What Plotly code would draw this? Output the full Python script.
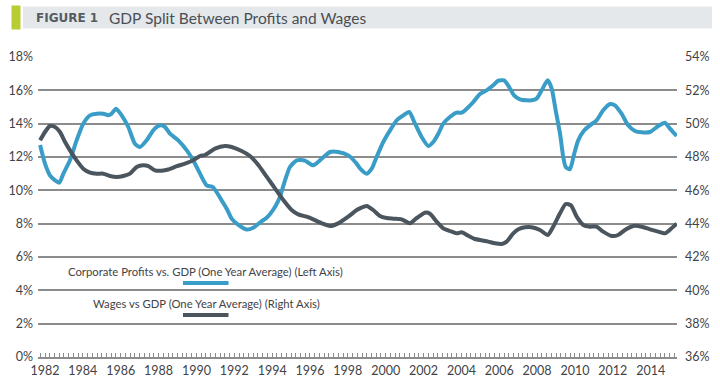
import plotly.graph_objects as go

# Corporate profits vs GDP (left axis, %)
profit_years = [1981.74, 1982.0, 1982.26, 1982.53, 1982.76, 1982.97, 1983.32, 1983.67, 1984.02, 1984.38,
                1984.73, 1985.08, 1985.34, 1985.52, 1985.75, 1986.05, 1986.40, 1986.75, 1987.02, 1987.37,
                1987.72, 1988.07, 1988.34, 1988.60, 1989.04, 1989.49, 1989.83, 1990.19, 1990.54, 1990.87,
                1991.33, 1991.60, 1991.86, 1992.13, 1992.66, 1993.0, 1993.45, 1993.71, 1994.15, 1994.41,
                1994.68, 1994.94, 1995.30, 1995.73, 1996.17, 1996.62, 1997.06, 1997.49, 1998.02, 1998.47,
                1998.64, 1999.0, 1999.26, 1999.52, 1999.87, 2000.23, 2000.58, 2000.93, 2001.24, 2001.55,
                2001.90, 2002.25, 2002.51, 2002.78, 2003.04, 2003.39, 2003.75, 2004.01, 2004.28, 2004.63,
                2004.98, 2005.33, 2005.68, 2005.95, 2006.25, 2006.47, 2006.78, 2007.09, 2007.45, 2007.71,
                2007.97, 2008.24, 2008.56, 2008.77, 2008.98, 2009.21, 2009.38, 2009.51, 2009.73, 2009.96,
                2010.17, 2010.49, 2010.79, 2011.14, 2011.49, 2011.85, 2012.11, 2012.46, 2012.81, 2013.17,
                2013.52, 2013.96, 2014.40, 2014.75, 2015.02, 2015.37]
profit_values = [12.72, 11.6, 10.9, 10.6, 10.46, 11.0, 11.8, 13.0, 14.0, 14.5,
                 14.6, 14.6, 14.5, 14.6, 14.9, 14.5, 13.8, 12.8, 12.6, 13.0,
                 13.6, 13.9, 13.8, 13.4, 13.0, 12.4, 11.8, 11.0, 10.3, 10.2,
                 9.4, 8.9, 8.3, 8.0, 7.65, 7.75, 8.15, 8.35, 9.0, 9.6,
                 10.6, 11.4, 11.8, 11.78, 11.5, 11.9, 12.3, 12.3, 12.1, 11.6,
                 11.32, 11.0, 11.3, 12.0, 12.9, 13.6, 14.2, 14.5, 14.7, 14.0,
                 13.2, 12.66, 12.9, 13.4, 14.0, 14.4, 14.66, 14.66, 14.9, 15.3,
                 15.78, 16.0, 16.3, 16.58, 16.6, 16.3, 15.7, 15.46, 15.4, 15.4,
                 15.5, 16.0, 16.6, 16.1, 14.8, 13.4, 12.0, 11.4, 11.26, 12.2,
                 13.0, 13.6, 13.9, 14.2, 14.8, 15.18, 15.1, 14.6, 13.9, 13.56,
                 13.48, 13.5, 13.86, 14.06, 13.7, 13.26]

# Wages vs GDP (right axis, %)
wage_years = [1981.74, 1982.0, 1982.26, 1982.53, 1982.79, 1983.06, 1983.32, 1983.67, 1984.02, 1984.38,
              1984.73, 1985.08, 1985.43, 1985.79, 1986.14, 1986.49, 1986.84, 1987.19, 1987.46, 1987.81,
              1988.16, 1988.51, 1988.96, 1989.40, 1989.83, 1990.19, 1990.45, 1990.98, 1991.51, 1991.86,
              1992.39, 1992.83, 1993.27, 1993.71, 1994.15, 1994.59, 1995.03, 1995.38, 1995.82, 1996.17,
              1996.62, 1997.06, 1997.49, 1998.02, 1998.47, 1998.64, 1999.0, 1999.34, 1999.70, 2000.05,
              2000.40, 2000.84, 2001.28, 2001.64, 2002.07, 2002.34, 2002.69, 2003.04, 2003.39, 2003.75,
              2004.01, 2004.36, 2004.72, 2005.07, 2005.42, 2005.77, 2006.13, 2006.39, 2006.74, 2007.01,
              2007.36, 2007.71, 2008.15, 2008.56, 2008.85, 2009.21, 2009.51, 2009.79, 2010.09, 2010.44,
              2010.79, 2011.14, 2011.49, 2011.94, 2012.28, 2012.64, 2013.08, 2013.52, 2013.96, 2014.40,
              2014.75, 2015.10, 2015.37]
wage_values = [49.0, 49.5, 49.86, 49.8, 49.5, 48.9, 48.4, 47.8, 47.3, 47.06,
               47.0, 47.0, 46.86, 46.8, 46.86, 47.0, 47.4, 47.5, 47.45, 47.2,
               47.18, 47.25, 47.45, 47.6, 47.8, 48.06, 48.12, 48.5, 48.66, 48.6,
               48.36, 48.06, 47.52, 46.82, 46.12, 45.42, 44.82, 44.56, 44.42, 44.26,
               44.02, 43.86, 44.02, 44.42, 44.82, 44.92, 45.06, 44.82, 44.46, 44.34,
               44.3, 44.26, 44.02, 44.34, 44.66, 44.6, 44.12, 43.72, 43.56, 43.42,
               43.48, 43.28, 43.08, 43.0, 42.92, 42.82, 42.78, 42.92, 43.42, 43.66,
               43.78, 43.78, 43.62, 43.32, 43.82, 44.62, 45.18, 45.1, 44.42, 43.92,
               43.82, 43.82, 43.52, 43.26, 43.32, 43.62, 43.86, 43.82, 43.66, 43.52,
               43.42, 43.72, 44.0]

year_ticks = list(range(1982, 2015, 2))
left_ticks = list(range(0, 19, 2))
right_ticks = list(range(36, 55, 2))

title_tag = "FIGURE 1"
title_text = "GDP Split Between Profits and Wages"
profit_name = "Corporate Profits vs. GDP (One Year Average) (Left Axis)"
wage_name = "Wages vs GDP (One Year Average) (Right Axis)"

BLUE = "#3a9dc7"
DARK = "#4b555d"
GRID = "#8c8c8c"
TXT = "#3f4347"
FONT = "Lato, 'Open Sans', sans-serif"

# plot area in pixels (for paper-coordinate conversions)
PL, PR, PT, PB = 38, 677, 57, 357
PW, PH = PR - PL, PB - PT


def px(x):
    return (x - PL) / PW


def py(y):
    return (PB - y) / PH


fig = go.Figure()
fig.add_trace(go.Scatter(x=profit_years, y=profit_values, mode="lines", name=profit_name,
                         line=dict(color=BLUE, width=4, shape="spline", smoothing=0.6), yaxis="y"))
fig.add_trace(go.Scatter(x=wage_years, y=wage_values, mode="lines", name=wage_name,
                         line=dict(color=DARK, width=4, shape="spline", smoothing=0.6), yaxis="y2"))

fig.update_layout(
    width=720, height=383,
    margin=dict(l=PL, r=720 - PR, t=PT, b=383 - PB, autoexpand=False),
    paper_bgcolor="white", plot_bgcolor="white",
    showlegend=False,
    font=dict(family=FONT, color=TXT, size=12),
    xaxis=dict(range=[1981.63, 2015.39], tickvals=year_ticks, ticktext=[str(y) for y in year_ticks],
               showgrid=False, zeroline=False, showline=True, linecolor=GRID, linewidth=1.5,
               ticks="inside", ticklen=4, tickcolor=GRID, tickwidth=1,
               minor=dict(dtick=0.25, tick0=1982, ticks="inside", ticklen=4, tickcolor=GRID, tickwidth=1),
               tickfont=dict(size=12.5, color=TXT), ticklabelstandoff=1),
    yaxis=dict(range=[0, 18], tickvals=left_ticks, ticktext=[f"{v}%" for v in left_ticks],
               showgrid=True, gridcolor=GRID, gridwidth=1.5, zeroline=False,
               tickfont=dict(size=12.5, color=TXT), ticklabelstandoff=4),
    yaxis2=dict(range=[36, 54], tickvals=right_ticks, ticktext=[f"{v}%" for v in right_ticks],
                overlaying="y", side="right", showgrid=False, zeroline=False,
                tickfont=dict(size=12.5, color=TXT), ticklabelstandoff=7),
)

# Title banner
fig.add_shape(type="rect", xref="paper", yref="paper", x0=px(23), x1=px(712),
              y0=py(28.5), y1=py(6.5), fillcolor="#e5e8ea", line_width=0, layer="below")
fig.add_shape(type="rect", xref="paper", yref="paper", x0=px(11.5), x1=px(20.5),
              y0=py(29.5), y1=py(5.5), fillcolor="#b8cc34", line_width=0)
fig.add_annotation(xref="paper", yref="paper", x=px(34), y=py(18),
                   xanchor="left", yanchor="middle", showarrow=False,
                   text=f"<b>{title_tag}</b>", font=dict(size=12, color="#555c63", family="DejaVu Sans"))
fig.add_annotation(xref="paper", yref="paper", x=px(107), y=py(17.5),
                   xanchor="left", yanchor="middle", showarrow=False,
                   text=title_text, font=dict(size=15.5, color="#4a4f55", family=FONT))

# Legend (text above a line sample)
fig.add_annotation(xref="paper", yref="paper", x=px(205), y=py(271.5),
                   xanchor="center", yanchor="middle", showarrow=False,
                   text=profit_name, font=dict(size=11.3, color=TXT, family=FONT))
fig.add_shape(type="line", xref="paper", yref="paper", x0=px(183), x1=px(228.5),
              y0=py(283), y1=py(283), line=dict(color=BLUE, width=4))
fig.add_annotation(xref="paper", yref="paper", x=px(206), y=py(303.5),
                   xanchor="center", yanchor="middle", showarrow=False,
                   text=wage_name, font=dict(size=11.3, color=TXT, family=FONT))
fig.add_shape(type="line", xref="paper", yref="paper", x0=px(183), x1=px(228.5),
              y0=py(315), y1=py(315), line=dict(color=DARK, width=4))

fig.write_html("out.html", config={"displayModeBar": False},
               post_script="document.body.style.margin='0';document.body.style.overflow='hidden';")
